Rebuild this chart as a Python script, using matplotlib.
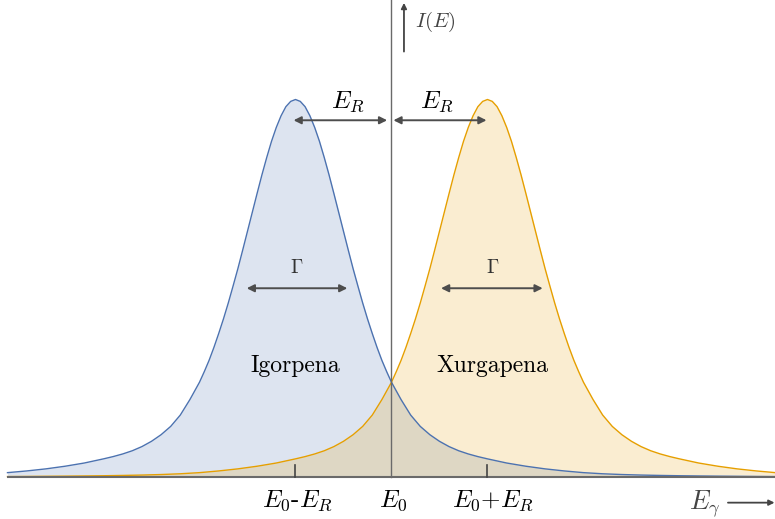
import numpy as np
import matplotlib.pyplot as plt

plt.rcParams['font.family'] = ['cmr10', 'DejaVu Serif']
plt.rcParams['mathtext.fontset'] = 'cm'
plt.rcParams['axes.unicode_minus'] = False

# line profile: offset from line centre (units of E_R) and relative intensity
offset = [0.0, 0.05, 0.1, 0.15, 0.2, 0.25, 0.3, 0.35, 0.4, 0.45, 0.5, 0.55,
          0.6, 0.65, 0.7, 0.75, 0.8, 0.85, 0.9, 0.95, 1.0, 1.1, 1.2, 1.3,
          1.4, 1.5, 1.6, 1.7, 1.8, 1.9, 2.0, 2.2, 2.4, 2.6, 2.8, 3.0, 3.2,
          3.4, 3.6, 3.8, 4.0, 4.2, 4.4, 4.6, 4.8, 5.0]
intensity = [1.0, 0.995, 0.981, 0.957, 0.926, 0.889, 0.846, 0.800, 0.751,
             0.701, 0.651, 0.601, 0.552, 0.506, 0.461, 0.419, 0.380, 0.343,
             0.309, 0.279, 0.251, 0.205, 0.164, 0.134, 0.112, 0.0945, 0.0805,
             0.0695, 0.061, 0.054, 0.048, 0.037, 0.0285, 0.0215, 0.016,
             0.0115, 0.0085, 0.0065, 0.0051, 0.0041, 0.0033, 0.0027, 0.0022,
             0.0018, 0.0014, 0.0011]

E0 = 0.0
ER = 1.0
centres = {'Igorpena': E0 - ER, 'Xurgapena': E0 + ER}
e_min, e_max = -4.0, 4.0

blue = '#4C72B0'
orange = '#E69F00'


def line_shape(centre):
    off = np.asarray(offset)
    val = np.asarray(intensity)
    x = np.concatenate([centre - off[::-1], centre + off[1:]])
    y = np.concatenate([val[::-1], val[1:]])
    keep = (x >= e_min - 1e-9) & (x <= e_max + 1e-9)
    return x[keep], y[keep]


fig = plt.figure(figsize=(7.75, 5.19), dpi=100)
ax = fig.add_axes([0, 0, 1, 1])
ax.set_xlim(-4.078, 3.995)
ax.set_ylim(-0.1113, 1.2636)
ax.axis('off')

xb, yb = line_shape(centres['Igorpena'])
xo, yo = line_shape(centres['Xurgapena'])
ax.fill_between(xb, 0, yb, color=blue, alpha=0.19, lw=0, zorder=1)
ax.fill_between(xo, 0, yo, color=orange, alpha=0.18, lw=0, zorder=1)
ax.plot(xo, yo, color=orange, lw=1.0, zorder=3)
ax.plot(xb, yb, color=blue, lw=1.0, zorder=3)

# axes
ax.plot([e_min, e_max], [0, 0], color='#6a6a6a', lw=1.5, zorder=4,
        solid_capstyle='butt')
ax.plot([E0, E0], [0, 1.3], color='#6a6a6a', lw=1.0, zorder=4)
for xt in (E0 - ER, E0 + ER):
    ax.plot([xt, xt], [0, 0.032], color='#444444', lw=1.2, zorder=4)

arrow = dict(arrowstyle='<|-|>', color='#4d4d4d', lw=1.4, mutation_scale=11,
             shrinkA=0, shrinkB=0)
# recoil shifts
ax.annotate('', xy=(-1.02, 0.945), xytext=(-0.045, 0.945), arrowprops=arrow, zorder=5)
ax.annotate('', xy=(0.02, 0.945), xytext=(0.99, 0.945), arrowprops=arrow, zorder=5)
ax.text(-0.458, 0.977, r'$E_R$', fontsize=18, ha='center', va='baseline')
ax.text(0.474, 0.977, r'$E_R$', fontsize=18, ha='center', va='baseline')

# line widths
ax.annotate('', xy=(-1.508, 0.5), xytext=(-0.46, 0.5), arrowprops=arrow, zorder=5)
ax.annotate('', xy=(0.516, 0.5), xytext=(1.575, 0.5), arrowprops=arrow, zorder=5)
ax.text(-0.988, 0.540, r'$\Gamma$', fontsize=14, ha='center', va='baseline',
        color='#333333')
ax.text(1.052, 0.540, r'$\Gamma$', fontsize=14, ha='center', va='baseline',
        color='#333333')

ax.text(-0.998, 0.278, 'Igorpena', fontsize=17, ha='center', va='baseline')
ax.text(1.052, 0.278, 'Xurgapena', fontsize=17, ha='center', va='baseline')

# energy labels
ax.text(-0.977, -0.0787, r'$E_0$-$E_R$', fontsize=18, ha='center',
        va='baseline')
ax.text(0.016, -0.0787, r'$E_0$', fontsize=18, ha='center', va='baseline')
ax.text(1.062, -0.0787, r'$E_0$+$E_R$', fontsize=18, ha='center',
        va='baseline')

# axis arrows
small = dict(arrowstyle='-|>', color='#444444', lw=1.3, mutation_scale=8,
             shrinkA=0, shrinkB=0)
ax.annotate('', xy=(0.130, 1.256), xytext=(0.130, 1.127), arrowprops=small)
ax.text(0.245, 1.193, r'$I(E)$', fontsize=15, ha='left', va='baseline',
        color='#444444')
ax.annotate('', xy=(3.99, -0.068), xytext=(3.505, -0.068), arrowprops=small)
ax.text(3.104, -0.083, r'$E_\gamma$', fontsize=19, ha='left', va='baseline',
        color='#444444')

fig.savefig('out.png', dpi=100)
